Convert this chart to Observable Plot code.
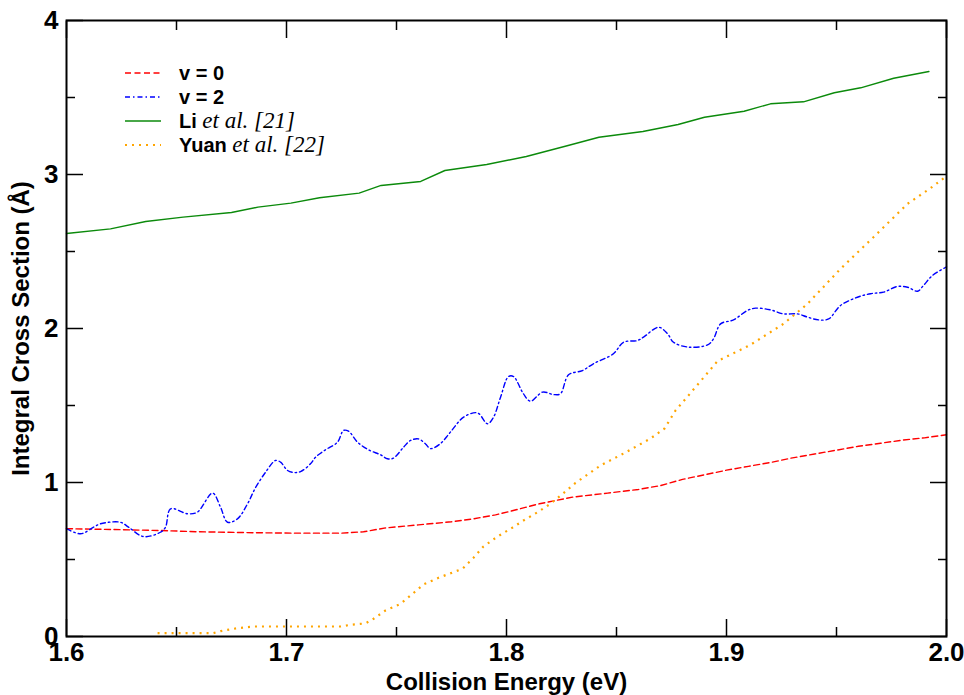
<!DOCTYPE html>
<html>
<head>
<meta charset="utf-8">
<script src="https://cdn.jsdelivr.net/npm/d3@7"></script>
<script src="https://cdn.jsdelivr.net/npm/@observablehq/plot@0.6"></script>
<style>
  html, body { margin: 0; padding: 0; background: #fff; }
  #chart { width: 964px; height: 695px; }
</style>
</head>
<body>
<div id="chart"></div>
<script>
// ---- data ----
const energyV0 = [1.600,1.620,1.643,1.660,1.680,1.703,1.725,1.735,1.745,1.760,1.775,1.785,1.795,1.802,1.815,1.830,1.846,1.860,1.870,1.880,1.890,1.900,1.910,1.920,1.930,1.940,1.950,1.960,1.970,1.980,1.990,2.000];
const csV0     = [0.700,0.695,0.688,0.680,0.675,0.671,0.671,0.680,0.705,0.725,0.745,0.764,0.790,0.814,0.862,0.905,0.931,0.955,0.980,1.020,1.050,1.080,1.105,1.130,1.160,1.185,1.210,1.235,1.255,1.275,1.290,1.310];

const energyV2 = [1.6000,1.6064,1.6123,1.6155,1.6245,1.6282,1.6350,1.6427,1.6450,1.6473,1.6550,1.6595,1.6664,1.6700,1.6732,1.6777,1.6823,1.6859,1.6905,1.6950,1.6973,1.7005,1.7032,1.7064,1.7109,1.7132,1.7177,1.7232,1.7259,1.7282,1.7323,1.7373,1.7427,1.7459,1.7486,1.7532,1.7564,1.7600,1.7632,1.7655,1.7700,1.7745,1.7805,1.7868,1.7914,1.7941,1.7973,1.8009,1.8032,1.8077,1.8109,1.8164,1.8214,1.8245,1.8282,1.8345,1.8395,1.8486,1.8532,1.8595,1.8623,1.8691,1.8732,1.8759,1.8827,1.8914,1.8941,1.8973,1.9032,1.9095,1.9132,1.9200,1.9259,1.9323,1.9368,1.9418,1.9464,1.9518,1.9595,1.9655,1.9714,1.9777,1.9823,1.9868,1.9895,1.9936,2.0000];
const csV2     = [0.700,0.667,0.710,0.732,0.742,0.710,0.649,0.677,0.710,0.829,0.797,0.808,0.931,0.840,0.742,0.764,0.862,0.966,1.067,1.143,1.132,1.078,1.065,1.071,1.121,1.164,1.212,1.262,1.338,1.333,1.262,1.212,1.180,1.154,1.158,1.229,1.273,1.283,1.250,1.220,1.253,1.327,1.424,1.452,1.381,1.424,1.554,1.688,1.688,1.576,1.528,1.587,1.571,1.576,1.699,1.727,1.771,1.836,1.911,1.922,1.944,2.008,1.966,1.911,1.879,1.894,1.933,2.030,2.056,2.117,2.132,2.121,2.095,2.095,2.074,2.056,2.062,2.149,2.203,2.226,2.236,2.273,2.268,2.242,2.279,2.344,2.400];

const energyLi = [1.600,1.620,1.636,1.653,1.675,1.687,1.702,1.715,1.733,1.743,1.761,1.772,1.791,1.809,1.828,1.842,1.862,1.878,1.890,1.908,1.920,1.935,1.949,1.961,1.976,1.992];
const csLi     = [2.617,2.647,2.695,2.723,2.753,2.788,2.814,2.849,2.879,2.929,2.955,3.026,3.065,3.117,3.188,3.242,3.279,3.325,3.372,3.411,3.459,3.472,3.531,3.563,3.625,3.669];

const energyYuan = [1.6414,1.6668,1.6700,1.6777,1.6850,1.7245,1.7291,1.7359,1.7391,1.7450,1.7518,1.7573,1.7623,1.7691,1.7759,1.7800,1.7850,1.7895,1.7959,1.8018,1.8077,1.8141,1.8200,1.8259,1.8314,1.8373,1.8427,1.8541,1.8655,1.8718,1.8768,1.8827,1.8959,1.9109,1.9259,1.9368,1.9518,1.9668,1.9823,1.9927,2.0000];
const csYuan     = [0.022,0.022,0.035,0.054,0.065,0.065,0.076,0.085,0.110,0.169,0.212,0.277,0.338,0.381,0.418,0.440,0.511,0.584,0.649,0.699,0.753,0.807,0.862,0.931,0.998,1.056,1.110,1.195,1.286,1.350,1.467,1.565,1.788,1.894,2.030,2.160,2.387,2.593,2.810,2.911,2.990];

const majorX = [1.6, 1.7, 1.8, 1.9, 2.0];
const minorX = [1.65, 1.75, 1.85, 1.95];
const majorY = [0, 1, 2, 3, 4];
const minorY = [0.5, 1.5, 2.5, 3.5];

const xTitle = "Collision Energy (eV)";
const yTitle = "Integral Cross Section (Å)";

const legendItems = [
  {main: "v = 0", italic: "", color: "#ff0000", dash: "6,3.5", width: 1.4},
  {main: "v = 2", italic: "", color: "#0000ff", dash: "5,3,1.5,3", width: 1.4},
  {main: "Li ", italic: "et al. [21]", color: "#0b8a0b", dash: null, width: 1.4},
  {main: "Yuan ", italic: "et al. [22]", color: "#ffa500", dash: "2,5", width: 2.2}
];

// ---- chart ----
const tickStyle = {stroke: "black", strokeWidth: 1.5, tickFormat: () => ""};
const chart = Plot.plot({
  width: 964,
  height: 695,
  marginLeft: 66,
  marginRight: 18,
  marginTop: 20,
  marginBottom: 59,
  style: {fontFamily: "'Liberation Sans', Arial, sans-serif", fontSize: "26px", fontWeight: "bold", color: "black", background: "white", overflow: "visible"},
  x: {domain: [1.6, 2.0]},
  y: {domain: [0, 4]},
  marks: [
    // data lines
    Plot.line(csV0, {x: energyV0, y: csV0, stroke: legendItems[0].color, strokeWidth: 1.4, strokeDasharray: legendItems[0].dash}),
    Plot.line(csV2, {x: energyV2, y: csV2, stroke: legendItems[1].color, strokeWidth: 1.4, strokeDasharray: legendItems[1].dash, curve: "catmull-rom"}),
    Plot.line(csLi, {x: energyLi, y: csLi, stroke: legendItems[2].color, strokeWidth: 1.4}),
    Plot.line(csYuan, {x: energyYuan, y: csYuan, stroke: legendItems[3].color, strokeWidth: 2.2, strokeDasharray: legendItems[3].dash, strokeLinecap: "butt"}),
    // tick labels
    Plot.axisX(majorX, {anchor: "bottom", tickSize: 0, tickPadding: 6, tickFormat: d => d.toFixed(1), label: null}),
    Plot.axisY(majorY, {anchor: "left", tickSize: 0, tickPadding: 8, tickFormat: d => String(d), label: null}),
    // inward ticks, mirrored
    Plot.axisX(majorX, {anchor: "bottom", tickSize: -17, label: null, ...tickStyle}),
    Plot.axisX(minorX, {anchor: "bottom", tickSize: -9, label: null, ...tickStyle}),
    Plot.axisX(majorX, {anchor: "top", tickSize: -17, label: null, ...tickStyle}),
    Plot.axisX(minorX, {anchor: "top", tickSize: -9, label: null, ...tickStyle}),
    Plot.axisY(majorY, {anchor: "left", tickSize: -17, label: null, ...tickStyle}),
    Plot.axisY(minorY, {anchor: "left", tickSize: -9, label: null, ...tickStyle}),
    Plot.axisY(majorY, {anchor: "right", tickSize: -17, label: null, ...tickStyle}),
    Plot.axisY(minorY, {anchor: "right", tickSize: -9, label: null, ...tickStyle}),
    Plot.frame({stroke: "black", strokeWidth: 2}),
    // axis titles
    Plot.text([xTitle], {text: d => d, frameAnchor: "bottom", textAnchor: "middle", dy: 53, fontSize: 24, fontWeight: "bold"}),
    Plot.text([yTitle], {text: d => d, frameAnchor: "left", textAnchor: "middle", dx: -45, rotate: -90, fontSize: 24, fontWeight: "bold"})
  ]
});
document.getElementById("chart").appendChild(chart);

// ---- legend inside the plot area ----
const svg = d3.select(chart);
const lg = svg.append("g").attr("transform", "translate(125,73)");
legendItems.forEach((it, i) => {
  const g = lg.append("g").attr("transform", `translate(0,${i * 24})`);
  g.append("line")
    .attr("x1", 0).attr("x2", 36).attr("y1", 0).attr("y2", 0)
    .attr("stroke", it.color)
    .attr("stroke-width", it.width)
    .attr("stroke-dasharray", it.dash);
  const t = g.append("text")
    .attr("x", 54).attr("y", 7)
    .attr("text-anchor", "start")
    .attr("font-family", "'Liberation Sans', Arial, sans-serif")
    .attr("font-weight", "bold")
    .attr("font-size", 20)
    .attr("fill", "black");
  t.append("tspan").text(it.main);
  if (it.italic) {
    t.append("tspan")
      .attr("font-family", "'Liberation Serif', 'Times New Roman', serif")
      .attr("font-style", "italic")
      .attr("font-weight", "normal")
      .attr("font-size", 23)
      .text(it.italic);
  }
});
</script>
</body>
</html>
